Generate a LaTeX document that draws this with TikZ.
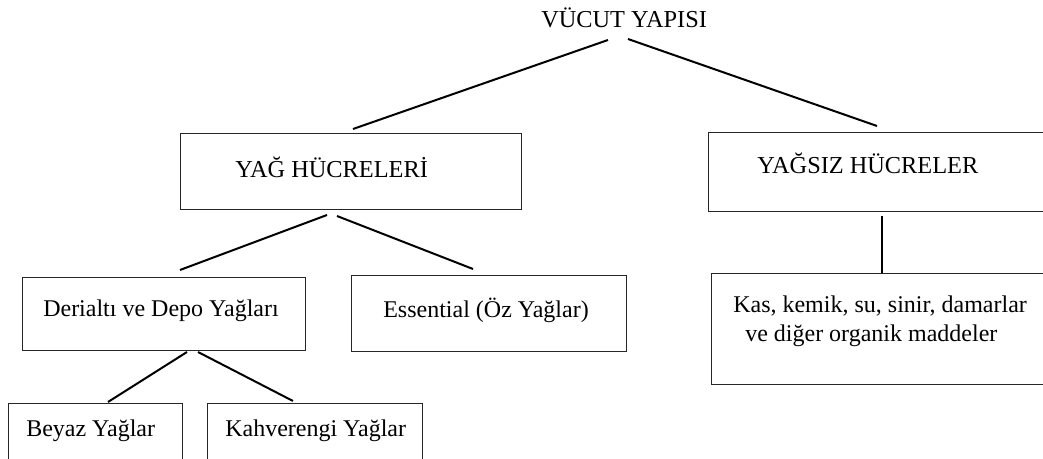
\documentclass[tikz,border=0pt]{standalone}
\usepackage{fontspec}
\setmainfont{Liberation Serif}
\begin{document}
\begin{tikzpicture}[x=0.75pt,y=-0.75pt,
  box/.style={draw=black!85,line width=1.1pt,rectangle,inner sep=0pt,anchor=north west},
  lbl/.style={inner sep=0pt,anchor=base west,font=\fontsize{18}{21}\selectfont},
  captext/.style={inner sep=0pt,anchor=base west,font=\fontsize{18.25}{21}\selectfont},
  conn/.style={line width=1.5pt,black}]
\clip (0,0) rectangle (1043,459);
\fill[white] (0,0) rectangle (1043,459);
% boxes
\node[box,minimum width=255.75pt,minimum height=57pt] (yag) at (180,133) {};
\node[box,minimum width=256.5pt,minimum height=59.25pt] (yagsiz) at (708,132) {};
\node[box,minimum width=212.25pt,minimum height=54.75pt] (derialti) at (22,277) {};
\node[box,minimum width=206.25pt,minimum height=57pt] (essential) at (351,275) {};
\node[box,minimum width=254.25pt,minimum height=83.25pt] (kas) at (711,273) {};
\node[box,minimum width=130.5pt,minimum height=52.5pt] (beyaz) at (8,403) {};
\node[box,minimum width=161.25pt,minimum height=52.5pt] (kahve) at (207,403) {};
% texts
\node[captext] (vucut) at (541,28) {VÜCUT YAPISI};
\node[captext] (yagt) at (235,178) {YAĞ HÜCRELERİ};
\node[captext] (yagsizt) at (757,174) {YAĞSIZ HÜCRELER};
\node[lbl] (derialtit) at (43,317) {Derialtı ve Depo Yağları};
\node[lbl] (essentialt) at (383,318) {Essential (Öz Yağlar)};
\node[lbl] (kast1) at (733,313) {Kas, kemik, su, sinir, damarlar};
\node[lbl] (kast2) at (745,342) {ve diğer organik maddeler};
\node[lbl] (beyazt) at (26,437) {Beyaz Yağlar};
\node[lbl] (kahvet) at (225,437) {Kahverengi Yağlar};
% connector ends
\coordinate (v1) at (608,40);
\coordinate (v2) at (628,39);
\coordinate (y1) at (353,129);
\coordinate (z1) at (877,126);
\coordinate (ya1) at (327,215);
\coordinate (ya2) at (337,216);
\coordinate (d1) at (180,270);
\coordinate (e1) at (473,269);
\coordinate (zs) at (882,216);
\coordinate (ks) at (882,273);
\coordinate (da1) at (187,352);
\coordinate (da2) at (198,352);
\coordinate (b1) at (108,402);
\coordinate (k1) at (293,401);
% connectors
\draw[conn] (v1) -- (y1);
\draw[conn] (v2) -- (z1);
\draw[conn] (ya1) -- (d1);
\draw[conn] (ya2) -- (e1);
\draw[conn] (zs) -- (ks);
\draw[conn] (da1) -- (b1);
\draw[conn] (da2) -- (k1);
\end{tikzpicture}
\end{document}
